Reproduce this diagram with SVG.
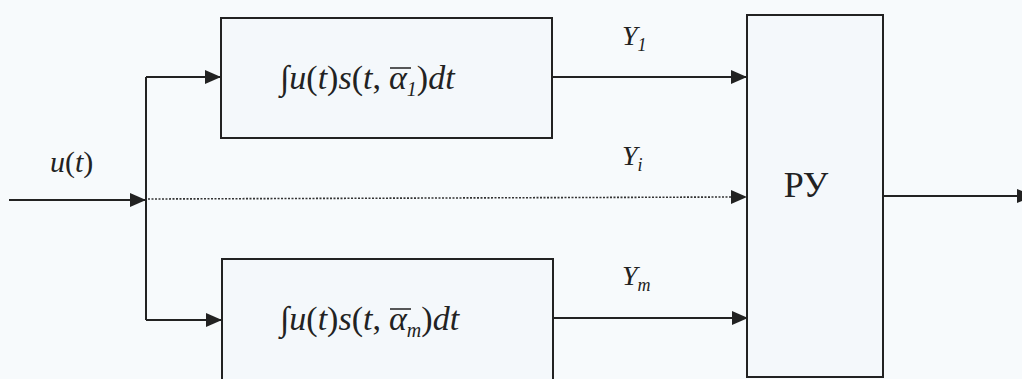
<svg xmlns="http://www.w3.org/2000/svg" width="1022" height="379" viewBox="0 0 1022 379">
<style>
.box{fill:#f4f8fb;stroke:#222;stroke-width:2}
.ln{stroke:#222;stroke-width:2;fill:none}
.dot{stroke:#333;stroke-width:1.6;stroke-dasharray:2 1.5;fill:none}
text{font-family:"Liberation Serif",serif;fill:#222}
.f{font-style:italic}
.n{font-style:normal}
</style>
<defs>
<marker id="ahb" markerWidth="16" markerHeight="14" refX="16" refY="7" orient="auto" markerUnits="userSpaceOnUse" viewBox="0 0 16 14">
<path d="M0,0 L16,7 L0,14 Z" fill="#222"/>
</marker>
</defs>
<rect width="1022" height="379" fill="#f7fafc"/>
<g id="connectors">
<line class="ln" x1="9" y1="200" x2="146" y2="200" marker-end="url(#ahb)"/>
<line class="ln" x1="146" y1="77" x2="146" y2="320"/>
<line class="ln" x1="146" y1="77" x2="221" y2="77" marker-end="url(#ahb)"/>
<line class="ln" x1="146" y1="320" x2="222" y2="320" marker-end="url(#ahb)"/>
<line class="dot" x1="148" y1="199" x2="732" y2="197"/>
<path d="M731,190 L747,197 L731,204 Z" fill="#222"/>
<line class="ln" x1="552" y1="77" x2="747" y2="77" marker-end="url(#ahb)"/>
<line class="ln" x1="553" y1="318" x2="748" y2="318" marker-end="url(#ahb)"/>
<line class="ln" x1="883" y1="196" x2="1022" y2="196"/>
<path d="M1017,189 L1022,191 L1022,201 L1017,203 Z" fill="#222"/>
</g>
<g id="input-label"><text class="f" x="50" y="172" font-size="30" font-family="Liberation Serif">u<tspan class="n">(</tspan>t<tspan class="n">)</tspan></text></g>
<g id="corr1">
<rect class="box" x="221" y="18" width="331" height="120"/>
<text class="f" x="280" y="89" font-size="34" font-family="Liberation Serif"><tspan class="n">∫</tspan>u<tspan class="n">(</tspan>t<tspan class="n">)</tspan>s<tspan class="n">(</tspan>t<tspan class="n">,</tspan><tspan x="389">α</tspan><tspan font-size="20" dy="7">1</tspan><tspan class="n" dy="-7">)</tspan>dt</text>
<line x1="390" y1="68" x2="411" y2="68" stroke="#222" stroke-width="1.5"/>
</g>
<g id="corrm">
<rect class="box" x="222" y="259" width="331" height="125"/>
<text class="f" x="280" y="330" font-size="34" font-family="Liberation Serif"><tspan class="n">∫</tspan>u<tspan class="n">(</tspan>t<tspan class="n">)</tspan>s<tspan class="n">(</tspan>t<tspan class="n">,</tspan><tspan x="389">α</tspan><tspan font-size="20" dy="7">m</tspan><tspan class="n" dy="-7">)</tspan>dt</text>
<line x1="390" y1="309" x2="411" y2="309" stroke="#222" stroke-width="1.5"/>
</g>
<g id="labels">
<text class="f" x="622" y="45" font-size="28" font-family="Liberation Serif">Y<tspan font-size="18" dy="6">1</tspan></text>
<text class="f" x="622" y="165" font-size="28" font-family="Liberation Serif">Y<tspan font-size="18" dy="6">i</tspan></text>
<text class="f" x="622" y="285" font-size="28" font-family="Liberation Serif">Y<tspan font-size="18" dy="6">m</tspan></text>
</g>
<g id="ru">
<rect class="box" x="747" y="15" width="136" height="362"/>
<text x="806" y="197" font-size="36" text-anchor="middle" font-family="Liberation Serif">РУ</text>
</g>
</svg>
